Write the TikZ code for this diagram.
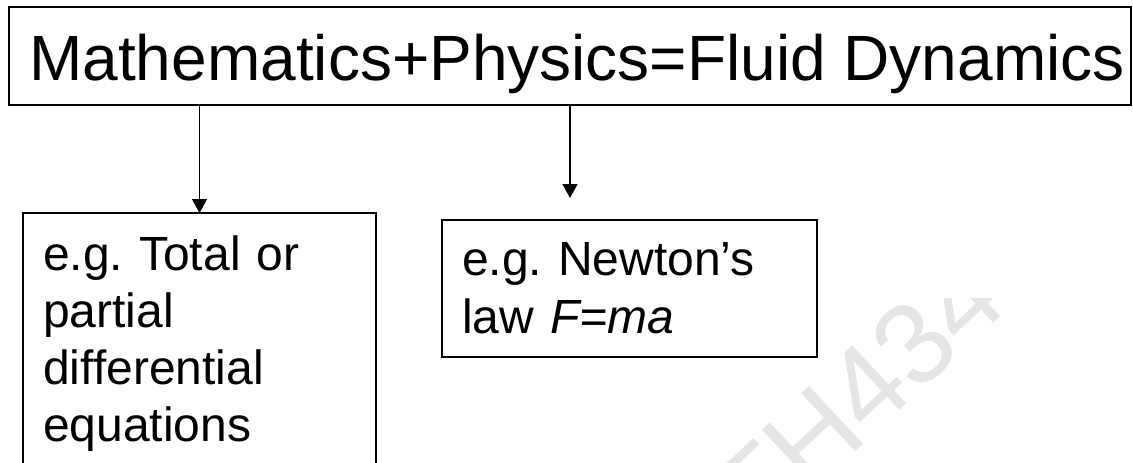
\documentclass[tikz,border=0pt]{standalone}
\usepackage{fontspec}
\setmainfont{Liberation Sans}
\usetikzlibrary{arrows.meta}
\frenchspacing
\begin{document}
\begin{tikzpicture}[x=1pt,y=-1pt,
  box/.style={draw=black, line width=1.4pt, rectangle, inner sep=0pt, outer sep=0pt},
  arr/.style={draw=black, line width=1.4pt, -{Triangle[length=14pt,width=15pt]}},
  bigtext/.style={font=\fontsize{64}{77}\selectfont, inner sep=0pt},
  bodytext/.style={font=\fontsize{48}{57}\selectfont, inner sep=0pt, align=left, anchor=north west},
  wm/.style={font=\fontsize{115}{138}\selectfont, text=gray!20, inner sep=0pt, rotate=43}]
\path[use as bounding box, clip] (0,0) rectangle (1133,463);
\fill[white] (0,0) rectangle (1133,463);
\begin{scope}
\clip (0,298) rectangle (1133,463);
\node[wm] (wmark) at (857.6,395.7) {TH434};
\end{scope}
\node[box, minimum width=1122pt, minimum height=98pt] (top) at (570,56) {};
\node[bigtext, anchor=base] (title) at (577,80) {Mathematics+Physics=Fluid Dynamics};
\node[box, anchor=north west, minimum width=353pt, minimum height=280pt] (left) at (23,213) {};
\node[bodytext, text width=320pt] (lefttext) at (43,235.6) {e.g. Total or\\partial\\differential\\equations};
\node[box, anchor=north west, minimum width=375pt, minimum height=137pt] (right) at (442,220) {};
\node[bodytext, text width=340pt, font=\fontsize{48}{58}\selectfont] (righttext) at (462,242.6) {e.g. Newton’s\\law \textit{F=ma}};
\coordinate (a2end) at (570,198);
\draw[arr] (left.north |- top.south) -- (left.north);
\draw[arr] (top.south) -- (a2end);
\end{tikzpicture}
\end{document}
